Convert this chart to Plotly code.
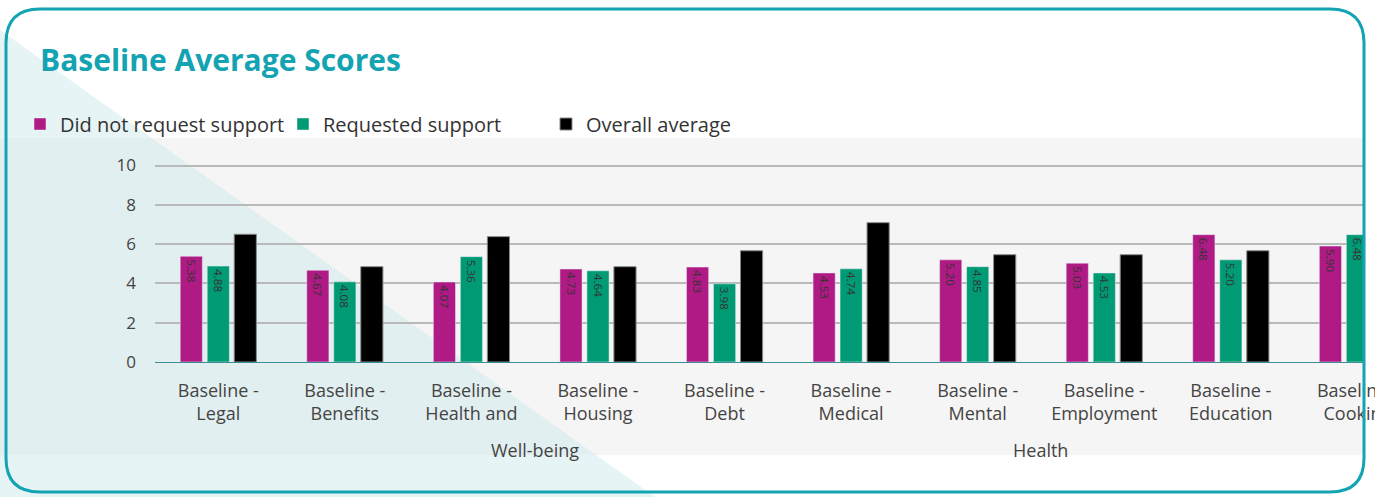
import plotly.graph_objects as go

# ---- data ----
categories = ["Legal", "Benefits", "Health and", "Housing", "Debt",
              "Medical", "Mental", "Employment", "Education", "Cooking"]
tick_labels = ["Baseline -<br>" + c for c in categories]
did_not_request = [5.38, 4.67, 4.07, 4.73, 4.83, 4.53, 5.20, 5.03, 6.48, 5.90]
requested = [4.88, 4.08, 5.36, 4.64, 3.98, 4.74, 4.85, 4.53, 5.20, 6.48]
overall = [6.50, 4.85, 6.38, 4.85, 5.66, 7.09, 5.46, 5.46, 5.66, 5.10]
group_labels = ["Well-being", "Health"]
group_centers = [2.5, 6.5]

W, H = 1375, 497
L, R, T, B = 155, 10, 138, 135
PW, PH = W - L - R, H - T - B


def px(x):
    return (x - L) / PW


def py(y):
    return (H - B - y) / PH


FONT = "Open Sans"
TEAL = "#14a3b2"

fig = go.Figure()
x_idx = list(range(len(categories)))
fig.add_trace(go.Bar(
    name="Did not request support", x=x_idx, y=did_not_request,
    marker_color="#b01a85", texttemplate="%{y:.2f}", textangle=90,
    textposition="inside", insidetextanchor="end",
    insidetextfont=dict(color="#333333", size=13, family=FONT)))
fig.add_trace(go.Bar(
    name="Requested support", x=x_idx, y=requested,
    marker_color="#009a74", texttemplate="%{y:.2f}", textangle=90,
    textposition="inside", insidetextanchor="end",
    insidetextfont=dict(color="#333333", size=13, family=FONT)))
fig.add_trace(go.Bar(
    name="Overall average", x=x_idx, y=overall,
    marker_color="#000000", marker_line=dict(color="#888888", width=1)))

shapes = []
# grey chart band
shapes.append(dict(type="rect", xref="paper", yref="paper", layer="below",
                   x0=px(0), x1=px(1365), y0=py(455), y1=py(138),
                   fillcolor="#f5f5f5", line_width=0))
# decorative triangle
shapes.append(dict(type="path", xref="paper", yref="paper", layer="below",
                   path=f"M {px(0)},{py(30)} L {px(655)},{py(497)} L {px(0)},{py(497)} Z",
                   fillcolor="#cfe9eb", opacity=0.5, line_width=0))
# rounded card border
x0, x1, y0, y1, r = 6, 1364, 9, 492, 34
path = (f"M {px(x0 + r)},{py(y0)} L {px(x1 - r)},{py(y0)} "
        f"Q {px(x1)},{py(y0)} {px(x1)},{py(y0 + r)} "
        f"L {px(x1)},{py(y1 - r)} Q {px(x1)},{py(y1)} {px(x1 - r)},{py(y1)} "
        f"L {px(x0 + r)},{py(y1)} Q {px(x0)},{py(y1)} {px(x0)},{py(y1 - r)} "
        f"L {px(x0)},{py(y0 + r)} Q {px(x0)},{py(y0)} {px(x0 + r)},{py(y0)} Z")
shapes.append(dict(type="path", xref="paper", yref="paper", layer="above",
                   path=path, line=dict(color=TEAL, width=3)))

annotations = [dict(text="<b>Baseline Average Scores</b>", xref="paper", yref="paper",
                    x=px(38), y=py(60), xanchor="left", yanchor="middle", showarrow=False,
                    font=dict(family=FONT, size=30, color=TEAL))]
for g, c in zip(group_labels, group_centers):
    annotations.append(dict(text=g, xref="x", yref="paper", x=c, y=py(450),
                            xanchor="center", yanchor="middle", showarrow=False,
                            font=dict(family=FONT, size=18, color="#444444")))

fig.update_layout(
    width=W, height=H, autosize=False,
    margin=dict(l=L, r=R, t=T, b=B, pad=0),
    paper_bgcolor="white", plot_bgcolor="rgba(0,0,0,0)",
    barmode="group", bargap=0.36, bargroupgap=0.18,
    font=dict(family=FONT, size=16, color="#333333"),
    legend=dict(orientation="h", x=px(20), y=py(124), xanchor="left", yanchor="middle",
                font=dict(family=FONT, size=20, color="#333333"),
                entrywidth=218, entrywidthmode="pixels",
                bgcolor="rgba(0,0,0,0)"),
    shapes=shapes, annotations=annotations,
)
fig.update_xaxes(tickmode="array", tickvals=x_idx, ticktext=tick_labels,
                 range=[-0.5, 9.06], showgrid=False, tickangle=0,
                 showline=True, linecolor="#3d8f96", linewidth=1,
                 ticklabelstandoff=12, ticklabeloverflow="allow", automargin=False,
                 tickfont=dict(family=FONT, size=18, color="#444444"))
fig.update_yaxes(range=[0, 11.4], tickmode="array", tickvals=[0, 2, 4, 6, 8, 10],
                 showgrid=True, gridcolor="#b9b9b9", gridwidth=2, zeroline=False,
                 ticklabelstandoff=18, automargin=False,
                 tickfont=dict(family=FONT, size=17, color="#444444"))

fig.write_html("out.html")
